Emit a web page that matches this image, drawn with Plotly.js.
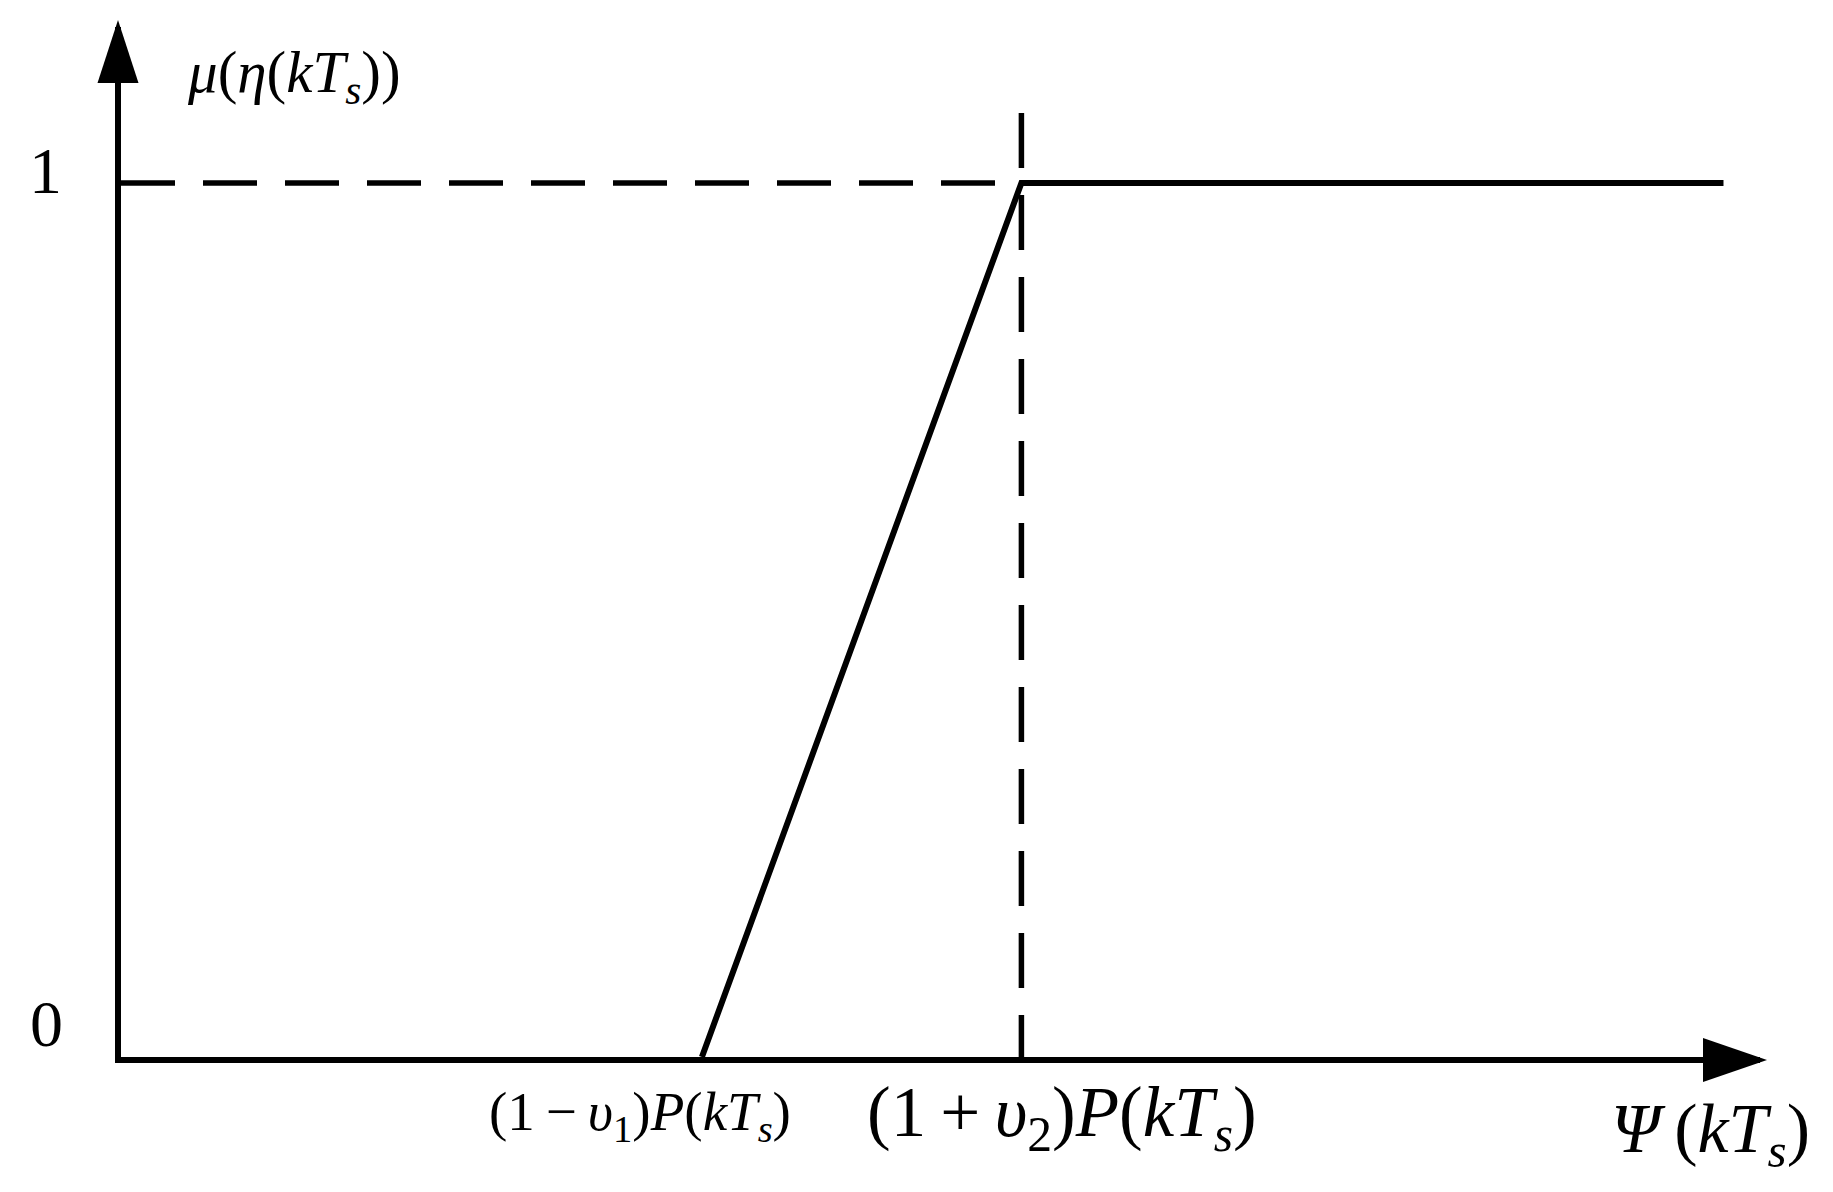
<!DOCTYPE html>
<html>
<head>
<meta charset="utf-8">
<script src="https://cdn.plot.ly/plotly-3.0.1.min.js"></script>
<style>
  html, body { margin: 0; padding: 0; background: #fff; }
</style>
</head>
<body>
<div id="chart" style="width:1833px;height:1192px;"></div>
<script>
// membership function knots, psi given in units of P(kT_s)
const psiKnots = [0.7, 1.085, 1.931];
const muKnots = [0, 1, 1];

// top of the dashed guide above the kink
const guideTop = 1.08;

// labels
const yTickVals = [0, 1];
const yTickText = ["0", "1"];
const xMarkText = [
    "(1\u2009\u2212\u2009<i>\u03c5</i><sub>1</sub>)<i>P</i>(<i>kT</i><sub><i>s</i></sub>)",
    "(1\u2009+\u2009<i>\u03c5</i><sub>2</sub>)<i>P</i>(<i>kT</i><sub><i>s</i></sub>)",
];
const xAxisLabel = "<i>\u03a8</i>\u2009(<i>kT</i><sub><i>s</i></sub>)";
const yAxisLabel = "<i>\u03bc</i>(<i>\u03b7</i>(<i>kT</i><sub><i>s</i></sub>))";

const serif = "'Liberation Serif', 'Times New Roman', serif";
const kinkX = psiKnots[1];
const startX = psiKnots[0];

// dashed guides through the kink point
let hGuide = {
    x: [0, kinkX],
    y: [muKnots[1], muKnots[1]],
    mode: "lines",
    line: { color: "black", width: 5.5, dash: "54px,28px" },
};
let vGuide = {
    x: [kinkX, kinkX],
    y: [guideTop, 0],
    mode: "lines",
    line: { color: "black", width: 5.5, dash: "55px,27px" },
};
let membership = {
    x: psiKnots,
    y: muKnots,
    mode: "lines",
    line: { color: "black", width: 6 },
};

// axis arrowheads, pixel sized, anchored at the axis ends
let arrows = [
    {
        type: "path", xref: "paper", yref: "paper",
        xsizemode: "pixel", ysizemode: "pixel",
        xanchor: 1, yanchor: 0,
        path: "M -57,19 L 7,-3 L -57,-25 Z",
        fillcolor: "black", line: { width: 0 },
    },
    {
        type: "path", xref: "paper", yref: "paper",
        xsizemode: "pixel", ysizemode: "pixel",
        xanchor: 0, yanchor: 1,
        path: "M -23.5,-56 L -3,7 L 17.5,-56 Z",
        fillcolor: "black", line: { width: 0 },
    },
];

let notes = [
    // y tick labels
    { xref: "paper", yref: "y", x: 0, y: yTickVals[1], text: yTickText[1],
      xshift: -76, yshift: 13, font: { size: 66 } },
    { xref: "paper", yref: "y", x: 0, y: yTickVals[0], text: yTickText[0],
      xshift: -75, yshift: 34, font: { size: 66 } },
    // x marks
    { xref: "x", yref: "paper", x: startX, y: 0, text: xMarkText[0],
      xshift: -62, yshift: -58, font: { size: 55 } },
    { xref: "x", yref: "paper", x: kinkX, y: 0, text: xMarkText[1],
      xshift: 41, yshift: -60, font: { size: 71 } },
    // axis titles
    { xref: "paper", yref: "paper", x: 1, y: 0, text: xAxisLabel,
      xshift: -50, yshift: -77, font: { size: 70 } },
    { xref: "paper", yref: "paper", x: 0, y: 1, text: yAxisLabel,
      xanchor: "left", xshift: 64, yshift: -49, font: { size: 59 } },
].map((a) => Object.assign({ showarrow: false, yanchor: "middle",
    xanchor: a.xanchor || "center" }, a, {
    font: Object.assign({ family: serif, color: "black" }, a.font) }));

var layout = {
    width: 1833,
    height: 1192,
    margin: { l: 121, r: 73, t: 27, b: 135 },
    paper_bgcolor: "white",
    plot_bgcolor: "white",
    showlegend: false,
    hovermode: false,
    xaxis: {
        range: [0, 1.975],
        showline: true, linecolor: "black", linewidth: 6,
        showgrid: false, zeroline: false, showticklabels: false, ticks: "",
    },
    yaxis: {
        range: [0, 1.1785],
        showline: true, linecolor: "black", linewidth: 6,
        showgrid: false, zeroline: false, showticklabels: false, ticks: "",
    },
    shapes: arrows,
    annotations: notes,
};

Plotly.newPlot("chart", [hGuide, vGuide, membership], layout,
    { staticPlot: true, displayModeBar: false });
</script>
</body>
</html>
